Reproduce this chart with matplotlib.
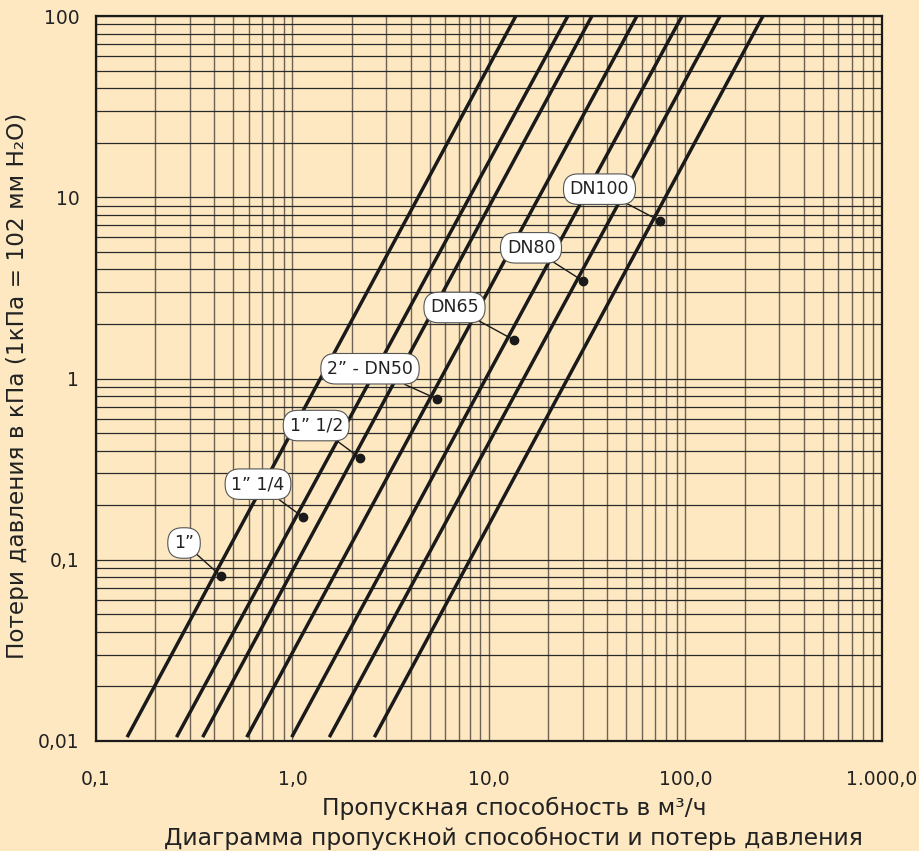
import numpy as np
import matplotlib.pyplot as plt
from matplotlib.ticker import FixedLocator, LogLocator, NullFormatter

plt.rcParams['font.family'] = ['DejaVu Sans']

sizes = ['1\u201d', '1\u201d 1/4', '1\u201d 1/2', '2\u201d - DN50', 'DN65', 'DN80', 'DN100']
# flow (m3/h) where each line meets the bottom and top of the chart
q_low = [0.144, 0.257, 0.349, 0.585, 0.991, 1.54, 2.61]
q_high = [13.7, 25.2, 33.4, 56.6, 96.0, 150, 248]
dp_low = 0.0105
dp_high = 100
# marked points on the lines and their label positions
dot_q = [0.433, 1.13, 2.21, 5.44, 13.4, 30.1, 74.1]
dot_dp = [0.0813, 0.172, 0.364, 0.771, 1.63, 3.45, 7.40]
lab_q = [0.2805, 0.6675, 1.32, 2.48, 6.675, 16.36, 36.5]
lab_dp = [0.1237, 0.2612, 0.550, 1.132, 2.465, 5.26, 11.08]

xticks = [0.1, 1, 10, 100, 1000]
xlabels = ['0,1', '1,0', '10,0', '100,0', '1.000,0']
yticks = [0.01, 0.1, 1, 10, 100]
ylabels = ['0,01', '0,1', '1', '10', '100']

bg = '#fde8c1'
txt = '#222222'

fig = plt.figure(figsize=(9.2, 8.51), dpi=100, facecolor=bg)
ax = fig.add_axes([96/920, 110/851, 786/920, 725/851], facecolor=bg)
ax.set_xscale('log')
ax.set_yscale('log')
ax.set_xlim(0.1, 1000)
ax.set_ylim(0.01, 100)

ax.xaxis.set_major_locator(FixedLocator(xticks))
ax.yaxis.set_major_locator(FixedLocator(yticks))
ax.set_xticklabels(xlabels)
ax.set_yticklabels(ylabels)
ax.xaxis.set_minor_locator(LogLocator(base=10, subs=np.arange(2, 10), numticks=20))
ax.yaxis.set_minor_locator(LogLocator(base=10, subs=np.arange(2, 10), numticks=20))
ax.xaxis.set_minor_formatter(NullFormatter())
ax.yaxis.set_minor_formatter(NullFormatter())
ax.tick_params(which='both', length=0)
ax.tick_params(axis='x', pad=21, labelsize=13.5, labelcolor=txt)
ax.tick_params(axis='y', pad=12, labelsize=13.5, labelcolor=txt)

ax.grid(which='both', axis='x', color='#6e6356', lw=1.0)
ax.grid(which='both', axis='y', color='#2a2a2a', lw=0.9)
ax.set_axisbelow(True)
for s in ax.spines.values():
    s.set_color('#1a1a1a')
    s.set_linewidth(1.6)

for i in range(len(sizes)):
    ax.plot([q_low[i], q_high[i]], [dp_low, dp_high], color='#1a1a1a', lw=2.5,
            solid_capstyle='butt', zorder=3)
    ax.plot(dot_q[i], dot_dp[i], 'o', color='#1a1a1a', ms=6, zorder=4)
    ax.annotate(sizes[i], xy=(dot_q[i], dot_dp[i]), xytext=(lab_q[i], lab_dp[i]),
                ha='center', va='center', fontsize=12.5, color=txt, zorder=5,
                bbox=dict(boxstyle='round,pad=0.36,rounding_size=0.85', fc='white',
                          ec='#555555', lw=0.8),
                arrowprops=dict(arrowstyle='-', color='#1a1a1a', lw=1.0,
                                shrinkA=0, shrinkB=0))

fig.text(18/920, 1 - 386/851, 'Потери давления в кПа (1кПа = 102 мм H\u2082O)',
         fontsize=16.7, color=txt, rotation=90, ha='center', va='center')
fig.text(514/920, 1 - 808/851, 'Пропускная способность в м\u00b3/ч', fontsize=16.8,
         color=txt, ha='center', va='center')
fig.text(513/920, 1 - 838/851, 'Диаграмма пропускной способности и потерь давления',
         fontsize=16.9, color=txt, ha='center', va='center')

fig.savefig('out.png', dpi=100, facecolor=bg)
